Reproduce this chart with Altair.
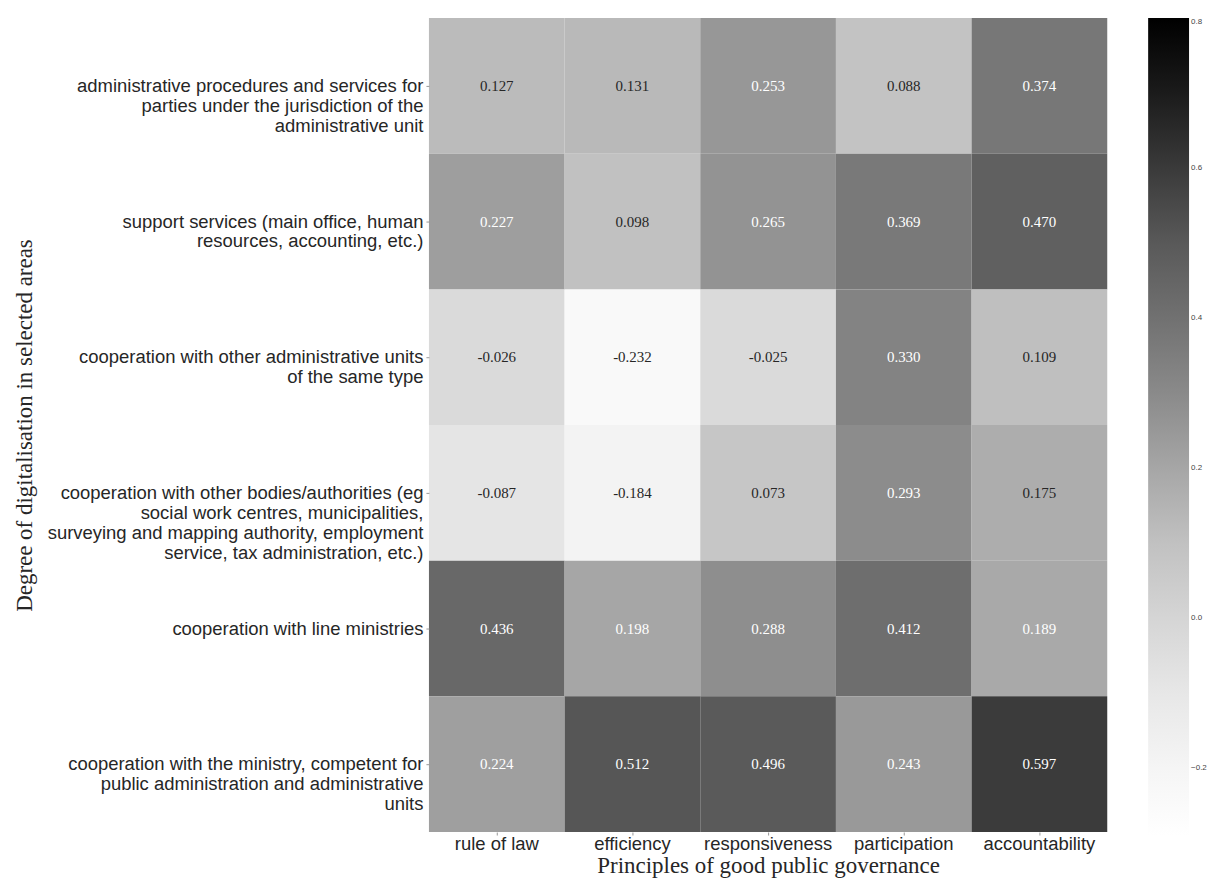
import altair as alt
import pandas as pd

rows = [
    "administrative procedures and services for|parties under the jurisdiction of the|administrative unit",
    "support services (main office, human|resources, accounting, etc.)",
    "cooperation with other administrative units|of the same type",
    "cooperation with other bodies/authorities (eg|social work centres,  municipalities,|surveying and mapping authority, employment|service, tax administration, etc.)",
    "cooperation with line ministries",
    "cooperation with the ministry, competent for|public administration and administrative|units",
]
cols = ["rule of law", "efficiency", "responsiveness", "participation", "accountability"]

vals_row1 = [0.127, 0.131, 0.253, 0.088, 0.374]
vals_row2 = [0.227, 0.098, 0.265, 0.369, 0.470]
vals_row3 = [-0.026, -0.232, -0.025, 0.330, 0.109]
vals_row4 = [-0.087, -0.184, 0.073, 0.293, 0.175]
vals_row5 = [0.436, 0.198, 0.288, 0.412, 0.189]
vals_row6 = [0.224, 0.512, 0.496, 0.243, 0.597]
all_vals = [vals_row1, vals_row2, vals_row3, vals_row4, vals_row5, vals_row6]

legend_ticks = [-0.2, 0.0, 0.2, 0.4, 0.6, 0.8]

# colour scale: ColorBrewer Greys (as matplotlib's "Greys"), spread from vmin to vmax
vmin, vmax = -0.29, 0.8
greys = ["#ffffff", "#f0f0f0", "#d9d9d9", "#bdbdbd", "#969696",
         "#737373", "#525252", "#252525", "#000000"]
stops = [vmin + (vmax - vmin) * i / (len(greys) - 1) for i in range(len(greys))]

records = []
for r, rv in zip(rows, all_vals):
    for c, v in zip(cols, rv):
        records.append({"row": r, "col": c, "value": v, "label": f"{v:.3f}"})
df = pd.DataFrame(records)

base = alt.Chart(df).encode(
    x=alt.X("col:N", sort=cols, title="Principles of good public governance",
            axis=alt.Axis(labelAngle=0, labelFont="Liberation Sans", labelFontSize=18.5,
                          labelColor="#262626", titleFont="Liberation Serif", titleFontSize=23,
                          titleFontWeight="normal", titleColor="#262626", titlePadding=1,
                          domain=False, tickSize=3, tickColor="#999999", labelPadding=0)),
    y=alt.Y("row:N", sort=rows, title="Degree of digitalisation in selected areas",
            axis=alt.Axis(labelExpr="split(datum.label, '|')", labelFont="Liberation Sans",
                          labelFontSize=18.5, labelLineHeight=20, labelColor="#262626",
                          labelLimit=600, titleFont="Liberation Serif", titleFontSize=23,
                          titleFontWeight="normal", titleColor="#262626",
                          titleX=-393, titleY=408,
                          domain=False, tickSize=3, tickColor="#999999", labelPadding=3)),
)

cscale = alt.Scale(domain=stops, range=greys, interpolate="rgb")

rect = base.mark_rect().encode(
    color=alt.Color("value:Q", scale=cscale,
                    legend=alt.Legend(title=None, type="gradient", orient="right",
                                      direction="vertical", gradientLength=820,
                                      gradientThickness=41, offset=41, values=legend_ticks,
                                      format=".1f", labelFontSize=8, labelColor="#444444",
                                      labelFont="Liberation Sans", padding=0,
                                      gradientStrokeWidth=0)),
)

text = base.mark_text(font="Liberation Serif", fontSize=15).encode(
    text="label:N",
    color=alt.condition(alt.datum.value > 0.18, alt.value("white"), alt.value("#262626")),
)

chart = (rect + text).properties(
    width=680, height=816,
    padding={"left": 5, "top": 9, "right": 0, "bottom": 0},
).configure_view(stroke=None).configure_scale(bandPaddingInner=0, bandPaddingOuter=0)

chart.save("out.html", embed_options={"renderer": "svg", "actions": False})
